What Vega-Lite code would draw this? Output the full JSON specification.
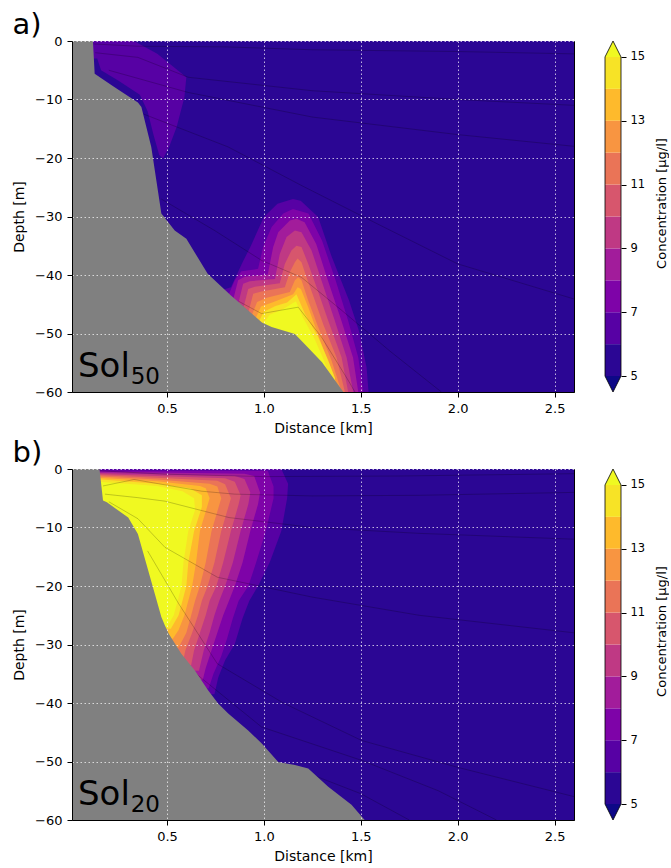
{
 "$schema": "https://vega.github.io/schema/vega-lite/v6.json",
 "padding": {"left": 12, "top": 10, "right": 0, "bottom": 0},
 "background": "white",
 "columns": 2,
 "bounds": "flush",
 "spacing": {"row": 77, "column": 31},
 "config": {
  "font": "DejaVu Sans",
  "view": {"stroke": "black", "strokeWidth": 1},
  "axis": {"domainColor": "black", "tickColor": "black", "labelColor": "black", "titleColor": "black", "labelFont": "DejaVu Sans", "titleFont": "DejaVu Sans", "labelFontSize": 13, "titleFontSize": 14, "titleFontWeight": "normal", "tickSize": 5, "labelPadding": 5, "gridColor": "#ffffff", "gridOpacity": 0.7, "gridDash": [1.5, 2.5], "gridWidth": 1},
  "axisX": {"titlePadding": 6},
  "axisY": {"titlePadding": 8},
  "title": {"font": "DejaVu Sans", "fontSize": 29, "fontWeight": "normal", "color": "black", "anchor": "start", "baseline": "alphabetic", "offset": -5}
 },
 "datasets": {
  "polyA": [
   {"p":"a06","c":6,"x":0.78,"y":-42.6},{"p":"a06","c":6,"x":0.83,"y":-42.1},{"p":"a06","c":6,"x":0.89,"y":-37.8},{"p":"a06","c":6,"x":0.93,"y":-35.2},{"p":"a06","c":6,"x":1.0,"y":-30.1},{"p":"a06","c":6,"x":1.07,"y":-27.8},{"p":"a06","c":6,"x":1.15,"y":-27.0},{"p":"a06","c":6,"x":1.19,"y":-27.3},{"p":"a06","c":6,"x":1.28,"y":-30.1},{"p":"a06","c":6,"x":1.35,"y":-36.9},{"p":"a06","c":6,"x":1.44,"y":-44.4},{"p":"a06","c":6,"x":1.49,"y":-49.5},{"p":"a06","c":6,"x":1.53,"y":-55.8},{"p":"a06","c":6,"x":1.54,"y":-60},{"p":"a06","c":6,"x":0.78,"y":-60},
   {"p":"a07","c":7,"x":0.815,"y":-43.6},{"p":"a07","c":7,"x":0.85,"y":-40.9},{"p":"a07","c":7,"x":0.884,"y":-39.35},{"p":"a07","c":7,"x":0.97,"y":-38.95},{"p":"a07","c":7,"x":0.996,"y":-35.2},{"p":"a07","c":7,"x":1.04,"y":-31.8},{"p":"a07","c":7,"x":1.10,"y":-29.5},{"p":"a07","c":7,"x":1.15,"y":-28.7},{"p":"a07","c":7,"x":1.23,"y":-29.5},{"p":"a07","c":7,"x":1.30,"y":-34.1},{"p":"a07","c":7,"x":1.37,"y":-40.9},{"p":"a07","c":7,"x":1.435,"y":-47.8},{"p":"a07","c":7,"x":1.487,"y":-54.1},{"p":"a07","c":7,"x":1.513,"y":-60},{"p":"a07","c":7,"x":0.815,"y":-60},
   {"p":"a08","c":8,"x":0.84,"y":-44.4},{"p":"a08","c":8,"x":0.867,"y":-40.9},{"p":"a08","c":8,"x":0.90,"y":-40.3},{"p":"a08","c":8,"x":1.02,"y":-39.9},{"p":"a08","c":8,"x":1.048,"y":-35.2},{"p":"a08","c":8,"x":1.074,"y":-32.7},{"p":"a08","c":8,"x":1.134,"y":-30.7},{"p":"a08","c":8,"x":1.168,"y":-30.4},{"p":"a08","c":8,"x":1.21,"y":-31.0},{"p":"a08","c":8,"x":1.27,"y":-34.7},{"p":"a08","c":8,"x":1.33,"y":-40.9},{"p":"a08","c":8,"x":1.40,"y":-47.8},{"p":"a08","c":8,"x":1.46,"y":-54.1},{"p":"a08","c":8,"x":1.487,"y":-60},{"p":"a08","c":8,"x":0.84,"y":-60},
   {"p":"a09","c":9,"x":0.867,"y":-45.0},{"p":"a09","c":9,"x":0.893,"y":-41.5},{"p":"a09","c":9,"x":0.927,"y":-41.05},{"p":"a09","c":9,"x":1.057,"y":-40.7},{"p":"a09","c":9,"x":1.082,"y":-36.4},{"p":"a09","c":9,"x":1.117,"y":-33.5},{"p":"a09","c":9,"x":1.16,"y":-32.4},{"p":"a09","c":9,"x":1.194,"y":-32.7},{"p":"a09","c":9,"x":1.246,"y":-35.8},{"p":"a09","c":9,"x":1.297,"y":-40.9},{"p":"a09","c":9,"x":1.366,"y":-47.8},{"p":"a09","c":9,"x":1.427,"y":-54.1},{"p":"a09","c":9,"x":1.461,"y":-60},{"p":"a09","c":9,"x":0.867,"y":-60},
   {"p":"a10","c":10,"x":0.893,"y":-45.8},{"p":"a10","c":10,"x":0.919,"y":-42.4},{"p":"a10","c":10,"x":0.953,"y":-42.0},{"p":"a10","c":10,"x":1.082,"y":-41.4},{"p":"a10","c":10,"x":1.108,"y":-38.1},{"p":"a10","c":10,"x":1.142,"y":-35.8},{"p":"a10","c":10,"x":1.168,"y":-35.0},{"p":"a10","c":10,"x":1.194,"y":-35.2},{"p":"a10","c":10,"x":1.229,"y":-38.1},{"p":"a10","c":10,"x":1.272,"y":-42.1},{"p":"a10","c":10,"x":1.332,"y":-47.8},{"p":"a10","c":10,"x":1.401,"y":-54.1},{"p":"a10","c":10,"x":1.435,"y":-60},{"p":"a10","c":10,"x":0.893,"y":-60},
   {"p":"a11","c":11,"x":0.919,"y":-46.5},{"p":"a11","c":11,"x":0.945,"y":-43.2},{"p":"a11","c":11,"x":0.988,"y":-42.8},{"p":"a11","c":11,"x":1.108,"y":-42.1},{"p":"a11","c":11,"x":1.134,"y":-39.5},{"p":"a11","c":11,"x":1.16,"y":-37.8},{"p":"a11","c":11,"x":1.174,"y":-37.2},{"p":"a11","c":11,"x":1.194,"y":-37.8},{"p":"a11","c":11,"x":1.22,"y":-40.4},{"p":"a11","c":11,"x":1.254,"y":-43.5},{"p":"a11","c":11,"x":1.306,"y":-48.4},{"p":"a11","c":11,"x":1.375,"y":-54.1},{"p":"a11","c":11,"x":1.418,"y":-60},{"p":"a11","c":11,"x":0.919,"y":-60},
   {"p":"a12","c":12,"x":0.936,"y":-47.0},{"p":"a12","c":12,"x":0.965,"y":-44.6},{"p":"a12","c":12,"x":1.015,"y":-43.9},{"p":"a12","c":12,"x":1.134,"y":-42.9},{"p":"a12","c":12,"x":1.16,"y":-40.9},{"p":"a12","c":12,"x":1.177,"y":-40.4},{"p":"a12","c":12,"x":1.194,"y":-40.9},{"p":"a12","c":12,"x":1.229,"y":-44.4},{"p":"a12","c":12,"x":1.28,"y":-48.9},{"p":"a12","c":12,"x":1.349,"y":-54.6},{"p":"a12","c":12,"x":1.401,"y":-60},{"p":"a12","c":12,"x":0.936,"y":-60},
   {"p":"a13","c":13,"x":0.955,"y":-47.6},{"p":"a13","c":13,"x":0.985,"y":-45.4},{"p":"a13","c":13,"x":1.05,"y":-44.6},{"p":"a13","c":13,"x":1.151,"y":-43.3},{"p":"a13","c":13,"x":1.174,"y":-42.1},{"p":"a13","c":13,"x":1.191,"y":-42.4},{"p":"a13","c":13,"x":1.229,"y":-45.5},{"p":"a13","c":13,"x":1.272,"y":-49.5},{"p":"a13","c":13,"x":1.332,"y":-55.0},{"p":"a13","c":13,"x":1.384,"y":-60},{"p":"a13","c":13,"x":0.955,"y":-60},
   {"p":"a14","c":14,"x":0.97,"y":-48.2},{"p":"a14","c":14,"x":1.0,"y":-46.3},{"p":"a14","c":14,"x":1.06,"y":-45.3},{"p":"a14","c":14,"x":1.12,"y":-44.7},{"p":"a14","c":14,"x":1.168,"y":-43.3},{"p":"a14","c":14,"x":1.211,"y":-46.6},{"p":"a14","c":14,"x":1.28,"y":-50.6},{"p":"a14","c":14,"x":1.332,"y":-54.6},{"p":"a14","c":14,"x":1.366,"y":-57.5},{"p":"a14","c":14,"x":1.375,"y":-60},{"p":"a14","c":14,"x":0.97,"y":-60},
   {"p":"a15","c":15,"x":0.99,"y":-48.6},{"p":"a15","c":15,"x":1.03,"y":-46.8},{"p":"a15","c":15,"x":1.10,"y":-45.8},{"p":"a15","c":15,"x":1.165,"y":-44.5},{"p":"a15","c":15,"x":1.20,"y":-47.2},{"p":"a15","c":15,"x":1.26,"y":-50.8},{"p":"a15","c":15,"x":1.31,"y":-54.6},{"p":"a15","c":15,"x":1.345,"y":-58},{"p":"a15","c":15,"x":1.35,"y":-60},{"p":"a15","c":15,"x":0.99,"y":-60},
   {"p":"t06","c":6,"x":0.10,"y":0},{"p":"t06","c":6,"x":0.33,"y":0},{"p":"t06","c":6,"x":0.45,"y":-2.2},{"p":"t06","c":6,"x":0.60,"y":-6.2},{"p":"t06","c":6,"x":0.59,"y":-9.6},{"p":"t06","c":6,"x":0.55,"y":-14.7},{"p":"t06","c":6,"x":0.51,"y":-18.2},{"p":"t06","c":6,"x":0.48,"y":-20.1},{"p":"t06","c":6,"x":0.46,"y":-19.5},{"p":"t06","c":6,"x":0.43,"y":-16},{"p":"t06","c":6,"x":0.40,"y":-12},{"p":"t06","c":6,"x":0.36,"y":-9.2},{"p":"t06","c":6,"x":0.25,"y":-6.8},{"p":"t06","c":6,"x":0.16,"y":-5},{"p":"t06","c":6,"x":0.14,"y":-3},{"p":"t06","c":6,"x":0.10,"y":-3}
  ],
  "polyB": [
   {"p":"b06","c":6,"x":0.0,"y":0},{"p":"b06","c":6,"x":1.09,"y":0},{"p":"b06","c":6,"x":1.125,"y":-2.5},{"p":"b06","c":6,"x":1.12,"y":-5},{"p":"b06","c":6,"x":1.09,"y":-10.6},{"p":"b06","c":6,"x":1.03,"y":-16},{"p":"b06","c":6,"x":0.97,"y":-20},{"p":"b06","c":6,"x":0.925,"y":-22.5},{"p":"b06","c":6,"x":0.89,"y":-25.5},{"p":"b06","c":6,"x":0.85,"y":-29.9},{"p":"b06","c":6,"x":0.80,"y":-32.7},{"p":"b06","c":6,"x":0.765,"y":-35.6},{"p":"b06","c":6,"x":0.745,"y":-38.5},{"p":"b06","c":6,"x":0.0,"y":-38.5},
   {"p":"b07","c":7,"x":0.0,"y":-0.2},{"p":"b07","c":7,"x":0.45,"y":-0.3},{"p":"b07","c":7,"x":1.02,"y":-0.3},{"p":"b07","c":7,"x":1.05,"y":-3},{"p":"b07","c":7,"x":1.05,"y":-5},{"p":"b07","c":7,"x":1.01,"y":-10.6},{"p":"b07","c":7,"x":0.96,"y":-16},{"p":"b07","c":7,"x":0.92,"y":-20},{"p":"b07","c":7,"x":0.87,"y":-22.5},{"p":"b07","c":7,"x":0.84,"y":-25.5},{"p":"b07","c":7,"x":0.81,"y":-29},{"p":"b07","c":7,"x":0.78,"y":-32},{"p":"b07","c":7,"x":0.74,"y":-35},{"p":"b07","c":7,"x":0.715,"y":-37.5},{"p":"b07","c":7,"x":0.0,"y":-37.5},
   {"p":"b08","c":8,"x":0.0,"y":-0.4},{"p":"b08","c":8,"x":0.45,"y":-0.6},{"p":"b08","c":8,"x":0.9,"y":-0.8},{"p":"b08","c":8,"x":0.95,"y":-1.2},{"p":"b08","c":8,"x":0.98,"y":-4},{"p":"b08","c":8,"x":0.97,"y":-6},{"p":"b08","c":8,"x":0.93,"y":-10.6},{"p":"b08","c":8,"x":0.89,"y":-16},{"p":"b08","c":8,"x":0.85,"y":-20},{"p":"b08","c":8,"x":0.82,"y":-22.5},{"p":"b08","c":8,"x":0.79,"y":-25},{"p":"b08","c":8,"x":0.76,"y":-28},{"p":"b08","c":8,"x":0.73,"y":-31},{"p":"b08","c":8,"x":0.70,"y":-34},{"p":"b08","c":8,"x":0.685,"y":-36},{"p":"b08","c":8,"x":0.0,"y":-36},
   {"p":"b09","c":9,"x":0.0,"y":-0.55},{"p":"b09","c":9,"x":0.45,"y":-0.9},{"p":"b09","c":9,"x":0.85,"y":-1.2},{"p":"b09","c":9,"x":0.90,"y":-1.7},{"p":"b09","c":9,"x":0.93,"y":-4},{"p":"b09","c":9,"x":0.92,"y":-6},{"p":"b09","c":9,"x":0.88,"y":-10.6},{"p":"b09","c":9,"x":0.84,"y":-16},{"p":"b09","c":9,"x":0.80,"y":-20},{"p":"b09","c":9,"x":0.77,"y":-22.5},{"p":"b09","c":9,"x":0.745,"y":-25},{"p":"b09","c":9,"x":0.72,"y":-28},{"p":"b09","c":9,"x":0.69,"y":-31},{"p":"b09","c":9,"x":0.665,"y":-34.5},{"p":"b09","c":9,"x":0.0,"y":-34.5},
   {"p":"b10","c":10,"x":0.0,"y":-0.7},{"p":"b10","c":10,"x":0.45,"y":-1.2},{"p":"b10","c":10,"x":0.80,"y":-1.6},{"p":"b10","c":10,"x":0.85,"y":-2.2},{"p":"b10","c":10,"x":0.88,"y":-4.5},{"p":"b10","c":10,"x":0.87,"y":-6},{"p":"b10","c":10,"x":0.83,"y":-10.6},{"p":"b10","c":10,"x":0.79,"y":-16},{"p":"b10","c":10,"x":0.755,"y":-20},{"p":"b10","c":10,"x":0.72,"y":-22.5},{"p":"b10","c":10,"x":0.70,"y":-25},{"p":"b10","c":10,"x":0.67,"y":-28},{"p":"b10","c":10,"x":0.64,"y":-31},{"p":"b10","c":10,"x":0.625,"y":-33.5},{"p":"b10","c":10,"x":0.0,"y":-33.5},
   {"p":"b11","c":11,"x":0.0,"y":-0.85},{"p":"b11","c":11,"x":0.45,"y":-1.5},{"p":"b11","c":11,"x":0.76,"y":-2.0},{"p":"b11","c":11,"x":0.80,"y":-2.6},{"p":"b11","c":11,"x":0.83,"y":-5},{"p":"b11","c":11,"x":0.78,"y":-10.6},{"p":"b11","c":11,"x":0.745,"y":-16},{"p":"b11","c":11,"x":0.71,"y":-20},{"p":"b11","c":11,"x":0.68,"y":-22.5},{"p":"b11","c":11,"x":0.66,"y":-25},{"p":"b11","c":11,"x":0.63,"y":-28},{"p":"b11","c":11,"x":0.595,"y":-31},{"p":"b11","c":11,"x":0.585,"y":-32.5},{"p":"b11","c":11,"x":0.0,"y":-32.5},
   {"p":"b12","c":12,"x":0.0,"y":-1.0},{"p":"b12","c":12,"x":0.45,"y":-1.8},{"p":"b12","c":12,"x":0.72,"y":-2.5},{"p":"b12","c":12,"x":0.76,"y":-3.0},{"p":"b12","c":12,"x":0.78,"y":-5},{"p":"b12","c":12,"x":0.73,"y":-10.6},{"p":"b12","c":12,"x":0.70,"y":-16},{"p":"b12","c":12,"x":0.67,"y":-20},{"p":"b12","c":12,"x":0.645,"y":-22.5},{"p":"b12","c":12,"x":0.625,"y":-25},{"p":"b12","c":12,"x":0.60,"y":-28},{"p":"b12","c":12,"x":0.56,"y":-30.5},{"p":"b12","c":12,"x":0.0,"y":-30.5},
   {"p":"b13","c":13,"x":0.0,"y":-1.2},{"p":"b13","c":13,"x":0.45,"y":-2.1},{"p":"b13","c":13,"x":0.67,"y":-2.9},{"p":"b13","c":13,"x":0.70,"y":-3.3},{"p":"b13","c":13,"x":0.72,"y":-5},{"p":"b13","c":13,"x":0.67,"y":-10.6},{"p":"b13","c":13,"x":0.65,"y":-16},{"p":"b13","c":13,"x":0.63,"y":-20},{"p":"b13","c":13,"x":0.61,"y":-22.5},{"p":"b13","c":13,"x":0.59,"y":-25},{"p":"b13","c":13,"x":0.56,"y":-27.5},{"p":"b13","c":13,"x":0.53,"y":-29},{"p":"b13","c":13,"x":0.0,"y":-29},
   {"p":"b14","c":14,"x":0.0,"y":-1.4},{"p":"b14","c":14,"x":0.45,"y":-2.5},{"p":"b14","c":14,"x":0.62,"y":-3.3},{"p":"b14","c":14,"x":0.68,"y":-4.5},{"p":"b14","c":14,"x":0.68,"y":-6.5},{"p":"b14","c":14,"x":0.64,"y":-10.6},{"p":"b14","c":14,"x":0.61,"y":-16},{"p":"b14","c":14,"x":0.60,"y":-20},{"p":"b14","c":14,"x":0.58,"y":-22.5},{"p":"b14","c":14,"x":0.56,"y":-25},{"p":"b14","c":14,"x":0.52,"y":-27.3},{"p":"b14","c":14,"x":0.0,"y":-27.3},
   {"p":"b15","c":15,"x":0.0,"y":-1.8},{"p":"b15","c":15,"x":0.45,"y":-2.9},{"p":"b15","c":15,"x":0.58,"y":-3.8},{"p":"b15","c":15,"x":0.64,"y":-5},{"p":"b15","c":15,"x":0.645,"y":-7},{"p":"b15","c":15,"x":0.61,"y":-10.6},{"p":"b15","c":15,"x":0.585,"y":-16},{"p":"b15","c":15,"x":0.575,"y":-20},{"p":"b15","c":15,"x":0.555,"y":-22.5},{"p":"b15","c":15,"x":0.535,"y":-25},{"p":"b15","c":15,"x":0.50,"y":-27},{"p":"b15","c":15,"x":0.0,"y":-27}
  ],
  "bathA": [
   {"x":0.0,"y":0},{"x":0.118,"y":0},{"x":0.127,"y":-5.6},{"x":0.23,"y":-7.9},{"x":0.35,"y":-10.5},{"x":0.368,"y":-11.3},{"x":0.419,"y":-18.1},{"x":0.471,"y":-29.5},{"x":0.54,"y":-32.4},{"x":0.6,"y":-33.8},{"x":0.71,"y":-39.8},{"x":0.83,"y":-43.5},{"x":0.99,"y":-48.1},{"x":1.04,"y":-48.9},{"x":1.16,"y":-50.1},{"x":1.21,"y":-51.8},{"x":1.30,"y":-54.9},{"x":1.41,"y":-60}
  ],
  "bathB": [
   {"x":0.0,"y":0},{"x":0.152,"y":0},{"x":0.17,"y":-5.4},{"x":0.19,"y":-5.7},{"x":0.30,"y":-8.3},{"x":0.35,"y":-11.1},{"x":0.471,"y":-25.3},{"x":0.49,"y":-26.8},{"x":0.51,"y":-28.2},{"x":0.574,"y":-31.6},{"x":0.643,"y":-34.4},{"x":0.712,"y":-37.8},{"x":0.764,"y":-40.1},{"x":0.816,"y":-41.8},{"x":0.919,"y":-44.7},{"x":0.988,"y":-46.9},{"x":1.074,"y":-50.1},{"x":1.16,"y":-50.6},{"x":1.229,"y":-51.2},{"x":1.332,"y":-54.3},{"x":1.452,"y":-57.4},{"x":1.52,"y":-60}
  ],
  "linesA": [
   {"l":1,"x":0.12,"y":-0.5},{"l":1,"x":0.35,"y":-0.9},{"l":1,"x":0.8,"y":-1.0},{"l":1,"x":1.25,"y":-1.5},{"l":1,"x":2.0,"y":-1.8},{"l":1,"x":2.6,"y":-2.2},
   {"l":2,"x":0.13,"y":-2},{"l":2,"x":0.35,"y":-2.8},{"l":2,"x":0.61,"y":-6.2},{"l":2,"x":1.25,"y":-8.5},{"l":2,"x":2.0,"y":-10},{"l":2,"x":2.6,"y":-11},
   {"l":3,"x":0.2,"y":-5},{"l":3,"x":0.61,"y":-8.8},{"l":3,"x":1.25,"y":-13},{"l":3,"x":2.0,"y":-16},{"l":3,"x":2.6,"y":-18},
   {"l":4,"x":0.38,"y":-12.5},{"l":4,"x":0.815,"y":-18.1},{"l":4,"x":1.2,"y":-24.8},{"l":4,"x":1.6,"y":-31.5},{"l":4,"x":2.0,"y":-38.1},{"l":4,"x":2.6,"y":-44.1},
   {"l":5,"x":0.47,"y":-27},{"l":5,"x":0.746,"y":-32.4},{"l":5,"x":0.988,"y":-37.5},{"l":5,"x":1.194,"y":-40.4},{"l":5,"x":1.40,"y":-46},{"l":5,"x":1.65,"y":-53},{"l":5,"x":1.916,"y":-60},
   {"l":6,"x":0.87,"y":-44.5},{"l":6,"x":0.988,"y":-46.6},{"l":6,"x":1.177,"y":-45.5},{"l":6,"x":1.297,"y":-50.6},{"l":6,"x":1.435,"y":-58},{"l":6,"x":1.47,"y":-60}
  ],
  "linesB": [
   {"l":1,"x":0.15,"y":-0.3},{"l":1,"x":0.5,"y":-0.9},{"l":1,"x":1.0,"y":-1.3},{"l":1,"x":1.7,"y":-1.2},{"l":1,"x":2.6,"y":-0.8},
   {"l":2,"x":0.17,"y":-2.9},{"l":2,"x":0.33,"y":-1.8},{"l":2,"x":0.68,"y":-3.8},{"l":2,"x":0.85,"y":-4.3},{"l":2,"x":1.25,"y":-4.6},{"l":2,"x":1.8,"y":-4.5},{"l":2,"x":2.6,"y":-4},
   {"l":3,"x":0.18,"y":-4.3},{"l":3,"x":0.35,"y":-4.9},{"l":3,"x":0.49,"y":-5.5},{"l":3,"x":0.82,"y":-8.3},{"l":3,"x":1.25,"y":-10},{"l":3,"x":1.8,"y":-11},{"l":3,"x":2.6,"y":-12},
   {"l":4,"x":0.2,"y":-5.6},{"l":4,"x":0.35,"y":-8.5},{"l":4,"x":0.49,"y":-13.4},{"l":4,"x":0.76,"y":-18.5},{"l":4,"x":1.25,"y":-21.9},{"l":4,"x":1.8,"y":-25},{"l":4,"x":2.6,"y":-28},
   {"l":5,"x":0.4,"y":-14},{"l":5,"x":0.56,"y":-23},{"l":5,"x":0.76,"y":-33.3},{"l":5,"x":1.1,"y":-40},{"l":5,"x":1.504,"y":-46.4},{"l":5,"x":2.0,"y":-51},{"l":5,"x":2.6,"y":-56},
   {"l":6,"x":0.65,"y":-35},{"l":6,"x":0.988,"y":-44.1},{"l":6,"x":1.504,"y":-49.8},{"l":6,"x":1.9,"y":-55},{"l":6,"x":2.2,"y":-60},
   {"l":7,"x":1.15,"y":-51},{"l":7,"x":1.5,"y":-55.5},{"l":7,"x":1.75,"y":-60}
  ],
  "cbar": [
   {"c":5,"hi":6},{"c":6,"hi":7},{"c":7,"hi":8},{"c":8,"hi":9},{"c":9,"hi":10},{"c":10,"hi":11},{"c":11,"hi":12},{"c":12,"hi":13},{"c":13,"hi":14},{"c":14,"hi":15}
  ],
  "cbtri": [
   {"p":"lo","c":4,"x":0,"y":5},{"p":"lo","c":4,"x":1,"y":4.5},{"p":"lo","c":4,"x":2,"y":5},
   {"p":"up","c":15,"x":0,"y":15},{"p":"up","c":15,"x":1,"y":15.5},{"p":"up","c":15,"x":2,"y":15}
  ],
  "cbout": [
   {"x":0,"y":5},{"x":0,"y":15},{"x":1,"y":15.5},{"x":2,"y":15},{"x":2,"y":5},{"x":1,"y":4.5},{"x":0,"y":5}
  ]
 },
 "concat": [
  {
   "width": 502, "height": 351,
   "title": {"text": "a)"},
   "layer": [
    {"data": {"values": [{"c": 5}]}, "mark": "rect",
     "encoding": {
      "x": {"datum": 0.01, "type": "quantitative", "scale": {"domain": [0.01, 2.6], "nice": false, "zero": false}, "axis": {"title": "Distance [km]", "values": [0.5, 1, 1.5, 2, 2.5], "format": ".1f", "grid": true, "zindex": 1}},
      "x2": {"datum": 2.6},
      "y": {"datum": 0, "type": "quantitative", "scale": {"domain": [-60, 0], "nice": false, "zero": false}, "axis": {"title": "Depth [m]", "values": [0, -10, -20, -30, -40, -50, -60], "format": "d", "grid": true, "zindex": 1}},
      "y2": {"datum": -60},
      "color": {"field": "c", "type": "quantitative", "scale": {"type": "linear", "scheme": "plasma", "domain": [4.5, 14.5], "clamp": true}, "legend": null}
     }},
    {"data": {"name": "polyA"}, "mark": {"type": "line", "filled": true, "clip": true},
     "encoding": {"x": {"field": "x", "type": "quantitative"}, "y": {"field": "y", "type": "quantitative"}, "detail": {"field": "p"}, "order": {"value": null}, "color": {"field": "c", "type": "quantitative"}}},
    {"data": {"name": "linesA"}, "mark": {"type": "line", "clip": true, "color": "black", "opacity": 0.3, "strokeWidth": 0.7},
     "encoding": {"x": {"field": "x", "type": "quantitative"}, "y": {"field": "y", "type": "quantitative"}, "detail": {"field": "l"}, "order": {"value": null}}},
    {"data": {"name": "bathA"}, "mark": {"type": "area", "color": "#808080", "clip": true},
     "encoding": {"x": {"field": "x", "type": "quantitative"}, "y": {"field": "y", "type": "quantitative"}, "y2": {"datum": -60}}},
    {"data": {"values": [{}]}, "mark": {"type": "text", "fontSize": 34, "align": "left", "baseline": "alphabetic", "color": "black", "font": "DejaVu Sans"},
     "encoding": {"x": {"datum": 0.041}, "y": {"datum": -57.5}, "text": {"value": "Sol"}}},
    {"data": {"values": [{}]}, "mark": {"type": "text", "fontSize": 23, "align": "left", "baseline": "alphabetic", "color": "black", "font": "DejaVu Sans"},
     "encoding": {"x": {"datum": 0.313}, "y": {"datum": -58.6}, "text": {"value": "50"}}}
   ]
  },
  {
   "width": 16, "height": 351, "view": {"stroke": null},
   "layer": [
    {"data": {"name": "cbar"}, "mark": "rect",
     "encoding": {
      "x": {"datum": 0, "type": "quantitative", "scale": {"domain": [0, 2], "nice": false, "zero": false}, "axis": null},
      "x2": {"datum": 2},
      "y": {"field": "c", "type": "quantitative", "scale": {"domain": [4.5, 15.5], "nice": false, "zero": false}, "axis": {"orient": "right", "values": [5, 7, 9, 11, 13, 15], "title": "Concentration [μg/l]", "grid": false, "domain": false, "labelFontSize": 11.5, "titleFontSize": 13, "labelPadding": 4, "titlePadding": 11, "titleAngle": 270, "titleBaseline": "top", "titleY": 162}},
      "y2": {"field": "hi"},
      "color": {"field": "c", "type": "quantitative", "scale": {"type": "linear", "scheme": "plasma", "domain": [4.5, 14.5], "clamp": true}, "legend": null}
     }},
    {"data": {"name": "cbtri"}, "mark": {"type": "line", "filled": true},
     "encoding": {"x": {"field": "x", "type": "quantitative"}, "y": {"field": "y", "type": "quantitative"}, "detail": {"field": "p"}, "order": {"value": null}, "color": {"field": "c", "type": "quantitative"}}},
    {"data": {"name": "cbout"}, "mark": {"type": "line", "color": "black", "strokeWidth": 0.8},
     "encoding": {"x": {"field": "x", "type": "quantitative"}, "y": {"field": "y", "type": "quantitative"}, "order": {"value": null}}}
   ]
  },
  {
   "width": 502, "height": 351,
   "title": {"text": "b)"},
   "layer": [
    {"data": {"values": [{"c": 5}]}, "mark": "rect",
     "encoding": {
      "x": {"datum": 0.01, "type": "quantitative", "scale": {"domain": [0.01, 2.6], "nice": false, "zero": false}, "axis": {"title": "Distance [km]", "values": [0.5, 1, 1.5, 2, 2.5], "format": ".1f", "grid": true, "zindex": 1}},
      "x2": {"datum": 2.6},
      "y": {"datum": 0, "type": "quantitative", "scale": {"domain": [-60, 0], "nice": false, "zero": false}, "axis": {"title": "Depth [m]", "values": [0, -10, -20, -30, -40, -50, -60], "format": "d", "grid": true, "zindex": 1}},
      "y2": {"datum": -60},
      "color": {"field": "c", "type": "quantitative", "scale": {"type": "linear", "scheme": "plasma", "domain": [4.5, 14.5], "clamp": true}, "legend": null}
     }},
    {"data": {"name": "polyB"}, "mark": {"type": "line", "filled": true, "clip": true},
     "encoding": {"x": {"field": "x", "type": "quantitative"}, "y": {"field": "y", "type": "quantitative"}, "detail": {"field": "p"}, "order": {"value": null}, "color": {"field": "c", "type": "quantitative"}}},
    {"data": {"name": "linesB"}, "mark": {"type": "line", "clip": true, "color": "black", "opacity": 0.3, "strokeWidth": 0.7},
     "encoding": {"x": {"field": "x", "type": "quantitative"}, "y": {"field": "y", "type": "quantitative"}, "detail": {"field": "l"}, "order": {"value": null}}},
    {"data": {"name": "bathB"}, "mark": {"type": "area", "color": "#808080", "clip": true},
     "encoding": {"x": {"field": "x", "type": "quantitative"}, "y": {"field": "y", "type": "quantitative"}, "y2": {"datum": -60}}},
    {"data": {"values": [{}]}, "mark": {"type": "text", "fontSize": 34, "align": "left", "baseline": "alphabetic", "color": "black", "font": "DejaVu Sans"},
     "encoding": {"x": {"datum": 0.041}, "y": {"datum": -57.4}, "text": {"value": "Sol"}}},
    {"data": {"values": [{}]}, "mark": {"type": "text", "fontSize": 23, "align": "left", "baseline": "alphabetic", "color": "black", "font": "DejaVu Sans"},
     "encoding": {"x": {"datum": 0.313}, "y": {"datum": -58.7}, "text": {"value": "20"}}}
   ]
  },
  {
   "width": 16, "height": 351, "view": {"stroke": null},
   "layer": [
    {"data": {"name": "cbar"}, "mark": "rect",
     "encoding": {
      "x": {"datum": 0, "type": "quantitative", "scale": {"domain": [0, 2], "nice": false, "zero": false}, "axis": null},
      "x2": {"datum": 2},
      "y": {"field": "c", "type": "quantitative", "scale": {"domain": [4.5, 15.5], "nice": false, "zero": false}, "axis": {"orient": "right", "values": [5, 7, 9, 11, 13, 15], "title": "Concentration [μg/l]", "grid": false, "domain": false, "labelFontSize": 11.5, "titleFontSize": 13, "labelPadding": 4, "titlePadding": 11, "titleAngle": 270, "titleBaseline": "top", "titleY": 162}},
      "y2": {"field": "hi"},
      "color": {"field": "c", "type": "quantitative", "scale": {"type": "linear", "scheme": "plasma", "domain": [4.5, 14.5], "clamp": true}, "legend": null}
     }},
    {"data": {"name": "cbtri"}, "mark": {"type": "line", "filled": true},
     "encoding": {"x": {"field": "x", "type": "quantitative"}, "y": {"field": "y", "type": "quantitative"}, "detail": {"field": "p"}, "order": {"value": null}, "color": {"field": "c", "type": "quantitative"}}},
    {"data": {"name": "cbout"}, "mark": {"type": "line", "color": "black", "strokeWidth": 0.8},
     "encoding": {"x": {"field": "x", "type": "quantitative"}, "y": {"field": "y", "type": "quantitative"}, "order": {"value": null}}}
   ]
  }
 ]
}
